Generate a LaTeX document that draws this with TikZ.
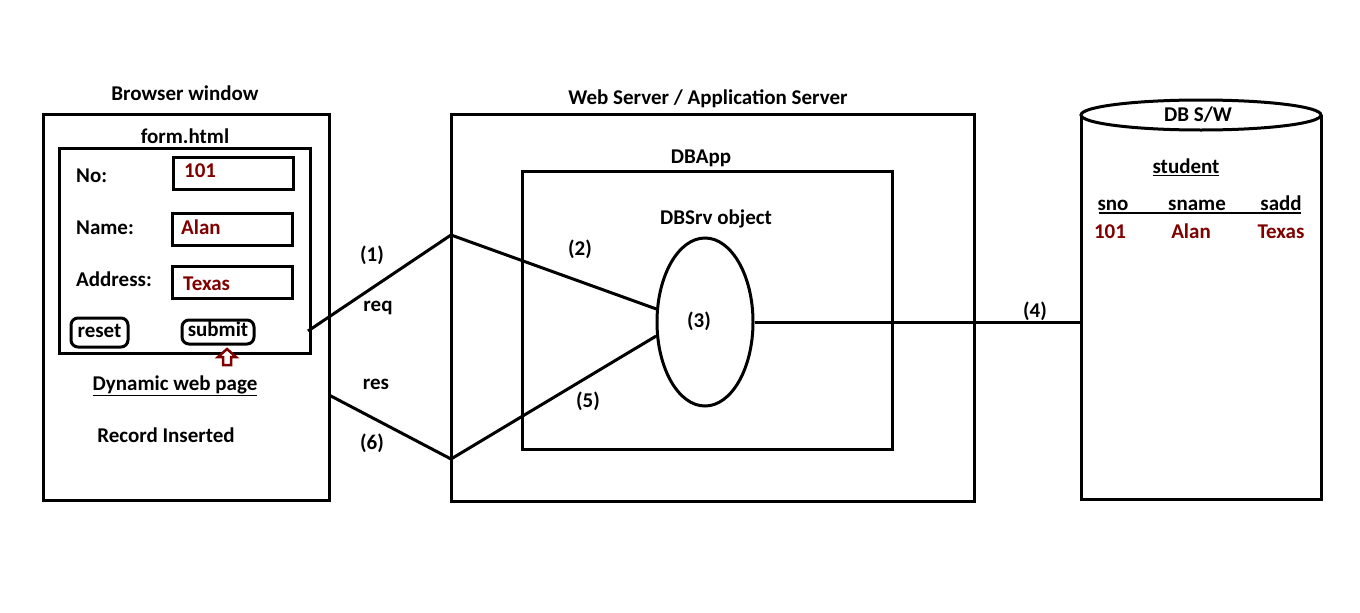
\documentclass[tikz,border=0pt]{standalone}
\usepackage{fontspec}
\setmainfont{Carlito}
\usetikzlibrary{shapes.geometric}
\definecolor{maroon}{RGB}{128,0,0}
\tikzset{
  box/.style={draw, line width=3pt, minimum width=#1, inner sep=0pt},
  txt/.style={font=\fontsize{21}{25}\selectfont\bfseries, inner sep=0pt, text height=17pt, text depth=4pt},
  val/.style={txt, text=maroon, anchor=west},
  lbl/.style={txt, anchor=west},
  conn/.style={line width=3pt},
  btn/.style={draw, line width=3pt, rounded corners=7pt, inner sep=0pt},
}
\begin{document}
\begin{tikzpicture}[x=1pt,y=-1pt]
\useasboundingbox (0,0) rectangle (1360,613);
% Browser window
\node[txt] (bwt) at (185,94) {Browser window};
\node[box=286pt, minimum height=386pt] (browser) at (186,307) {};
\node[txt] (fht) at (185,137) {form.html};
\node[box=251pt, minimum height=205pt] (form) at (184.5,250.5) {};
\node[lbl] (no) at (76,176) {No:};
\node[lbl] (name) at (76,228) {Name:};
\node[lbl] (addr) at (76,280) {Address:};
\node[box=120pt, minimum height=32pt] (b1) at (233,173) {};
\node[box=120pt, minimum height=32pt] (b2) at (232,229) {};
\node[box=120pt, minimum height=32pt] (b3) at (232,282) {};
\node[val] (v1) at (184,171) {101};
\node[val] (v2) at (181,228) {Alan};
\node[val] (v3) at (183,284) {Texas};
\node[btn, minimum width=57pt, minimum height=29pt] (reset) at (99.5,332.5) {};
\node[txt] (resett) at (99.5,331) {reset};
\node[btn, minimum width=72pt, minimum height=24pt] (submit) at (218,332) {};
\node[txt] (submitt) at (218,330) {submit};
\draw[maroon, line width=2.5pt, fill=white, line join=miter]
  (227,349) -- (236,357) -- (231,357) -- (231,365) -- (223,365) -- (223,357) -- (218,357) -- cycle;
\node[txt] (dyn) at (175,384) {\underline{Dynamic web page}};
\node[txt] (rec) at (166,436) {Record Inserted};
% Web server
\node[txt] (wst) at (708,98) {Web Server / Application Server};
\node[box=523pt, minimum height=387pt] (web) at (712.5,307.5) {};
\node[txt] (dbat) at (701,157) {DBApp};
\node[box=370pt, minimum height=278pt] (dbapp) at (707,310) {};
\node[txt] (dbst) at (716,218) {DBSrv object};
\node[draw, ellipse, line width=3pt, minimum width=96pt, minimum height=168pt, inner sep=0pt] (obj) at (705,322) {};
\node[txt] (n3) at (699,321) {(3)};
% connectors
\coordinate (reqs) at (308,331);
\coordinate (top) at (451,235);
\coordinate (bot) at (451,459);
\coordinate (ress) at (329,395);
\draw[conn] (reqs) -- (top) -- (obj.165);
\draw[conn] (ress) -- (bot) -- (obj.196);
\node[txt] (n1) at (372,255) {(1)};
\node[txt] (req) at (378,305) {req};
\node[txt] (res) at (376,383) {res};
\node[txt] (n6) at (372,443) {(6)};
\node[txt] (n2) at (580,249) {(2)};
\node[txt] (n5) at (588,401) {(5)};
% DB
\node[inner sep=0pt, minimum width=240pt, minimum height=384pt] (db) at (1201,307) {};
\draw[line width=3pt] (1081,115) -- (1081,499) -- (1321,499) -- (1321,115);
\draw[line width=3pt, fill=white] (1201,115) ellipse [x radius=120, y radius=15];
\node[txt] (dbt) at (1198,115) {DB S/W};
\draw[conn] (obj.east) -- (obj.east -| db.west);
\node[txt] (n4) at (1035,311) {(4)};
\node[txt] (stu) at (1186,167) {\underline{student}};
\node[txt] (sno) at (1113,204) {sno};
\node[txt] (sname) at (1197,204) {sname};
\node[txt] (sadd) at (1281,204) {sadd};
\draw[line width=2pt] (1099,213) -- (1301,213);
\node[txt, text=maroon] (d1) at (1110,232) {101};
\node[txt, text=maroon] (d2) at (1191,232) {Alan};
\node[txt, text=maroon] (d3) at (1281,232) {Texas};
\end{tikzpicture}
\end{document}
